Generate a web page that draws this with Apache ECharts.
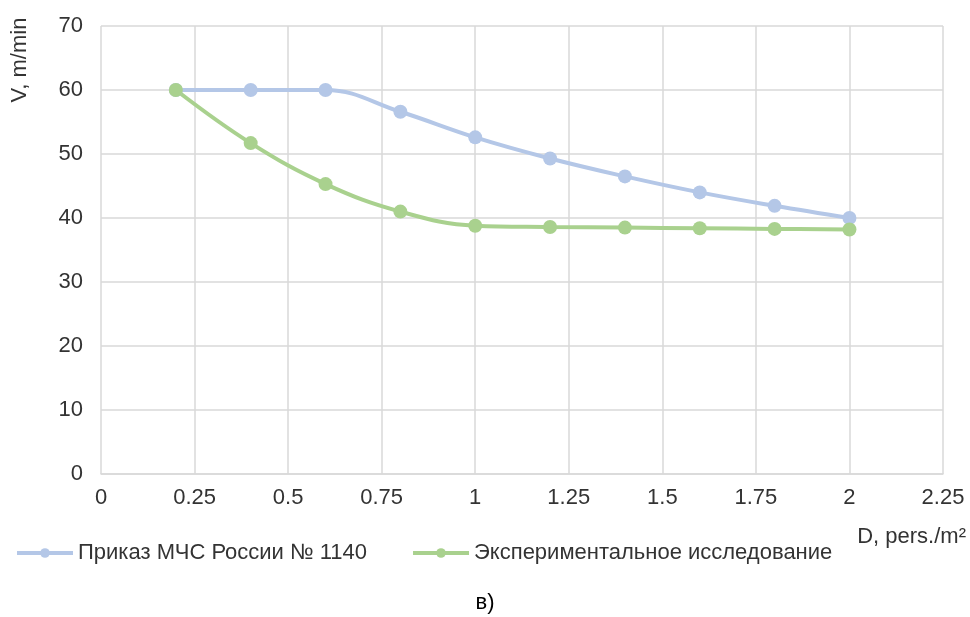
<!DOCTYPE html>
<html>
<head>
<meta charset="utf-8">
<script src="https://cdn.jsdelivr.net/npm/echarts@6/dist/echarts.min.js"></script>
<style>
  html, body { margin: 0; padding: 0; background: #fff; }
  #chart { width: 970px; height: 617px; }
</style>
</head>
<body>
<div id="chart"></div>
<script>
// data
const densities = [0.2, 0.4, 0.6, 0.8, 1.0, 1.2, 1.4, 1.6, 1.8, 2.0];
const normSpeed = [60, 60, 60, 56.6, 52.6, 49.3, 46.5, 44.0, 41.9, 40.0];
const expSpeed = [60, 51.7, 45.3, 41.0, 38.8, 38.6, 38.5, 38.4, 38.3, 38.2];
const seriesNames = ['Приказ МЧС России № 1140', 'Экспериментальное исследование'];

const FONT = '"Liberation Sans", Arial, sans-serif';
const TEXT = '#333333';
const BLUE = '#b4c7e7';
const GREEN = '#a9d18e';

const chart = echarts.init(document.getElementById('chart'));

function pairs(ys) {
    return densities.map((x, i) => [x, ys[i]]);
}

function lineSeries(name, ys, color) {
    return {
        name: name,
        type: 'line',
        data: pairs(ys),
        smooth: 0.4,
        symbol: 'circle',
        symbolSize: 14,
        lineStyle: { width: 4, color: color },
        itemStyle: { color: color },
        emphasis: { disabled: true }
    };
}

chart.setOption({
    backgroundColor: '#ffffff',
    animation: false,
    textStyle: { fontFamily: FONT },
    grid: { left: 101, right: 27, top: 26, bottom: 143 },
    xAxis: {
        type: 'value',
        min: 0, max: 2.25, interval: 0.25,
        axisLine: { show: true, lineStyle: { color: '#d9d9d9', width: 1.5 } },
        axisTick: { show: false },
        axisLabel: { color: TEXT, fontSize: 22, fontFamily: FONT, margin: 13 },
        splitLine: { show: true, lineStyle: { color: '#d9d9d9', width: 1.5 } }
    },
    yAxis: {
        type: 'value',
        min: 0, max: 70, interval: 10,
        axisLine: { show: false },
        axisTick: { show: false },
        axisLabel: { color: TEXT, fontSize: 22, fontFamily: FONT, margin: 18 },
        splitLine: { show: true, lineStyle: { color: '#d9d9d9', width: 1.5 } }
    },
    legend: {
        left: 10, top: 537,
        itemWidth: 56, itemHeight: 12, itemGap: 44,
        lineStyle: { width: 4 },
        textStyle: { color: TEXT, fontSize: 22, fontFamily: FONT },
        data: seriesNames
    },
    graphic: [
        {
            type: 'text', x: 20, y: 60, rotation: Math.PI / 2,
            style: { text: 'V, m/min', fill: TEXT, font: '22px ' + FONT, align: 'center', verticalAlign: 'middle' }
        },
        {
            type: 'text', x: 966, y: 537,
            style: { text: 'D, pers./m²', fill: TEXT, font: '22px ' + FONT, align: 'right', verticalAlign: 'middle' }
        },
        {
            type: 'text', x: 485, y: 603,
            style: { text: 'в)', fill: '#000000', font: '22px ' + FONT, align: 'center', verticalAlign: 'middle' }
        }
    ],
    series: [
        lineSeries(seriesNames[0], normSpeed, BLUE),
        lineSeries(seriesNames[1], expSpeed, GREEN)
    ]
});
</script>
</body>
</html>
